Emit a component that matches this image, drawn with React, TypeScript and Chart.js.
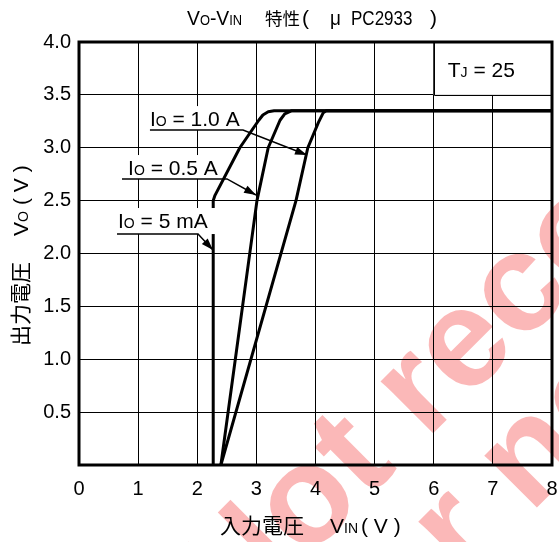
import React, { useEffect, useRef } from "react";
import { Chart, registerables } from "chart.js";
Chart.register(...registerables);

// ---- Axes ----
const X_MIN = 0, X_MAX = 8, X_STEP = 1;
const Y_MIN = 0, Y_MAX = 4, Y_STEP = 0.5;

// ---- Curves: VIN (V) vs VO (V) ----
const IO_5MA_VIN = [2.27, 2.27, 2.30, 2.72, 3.04, 3.11, 3.20, 3.30, 8.0];
const IO_5MA_VO = [0, 2.50, 2.55, 3.00, 3.26, 3.31, 3.34, 3.35, 3.35];
const IO_05A_VIN = [2.40, 3.01, 3.20, 3.40, 3.48, 3.60, 8.0];
const IO_05A_VO = [0, 2.50, 3.00, 3.26, 3.32, 3.35, 3.35];
const IO_10A_VIN = [2.40, 3.67, 3.87, 4.05, 4.13, 4.18, 8.0];
const IO_10A_VO = [0, 2.50, 3.00, 3.24, 3.33, 3.35, 3.35];

// ---- Annotation labels (data units) ----
const LABEL_TEXT = ["1.0 A", "0.5 A", "5 mA"];
const LABEL_TX = [1.2, 0.83, 0.66];
const LABEL_TY = [3.205, 2.742, 2.241];
const LABEL_UL_X0 = [1.2, 0.727, 0.643];
const LABEL_UL_X1 = [2.774, 2.503, 2.013];
const LABEL_UL_Y = [3.167, 2.705, 2.184];
const LABEL_BOX_X1 = [2.8, 2.42, 2.32];
const LABEL_ARROW_X = [3.856, 2.994, 2.266];
const LABEL_ARROW_Y = [2.931, 2.553, 2.033];

const FAM = '"Liberation Sans", Arial, "Noto Sans CJK JP", sans-serif';

type Seg = { t: string; s: number };

function segWidth(ctx: CanvasRenderingContext2D, segs: Seg[]) {
  let w = 0;
  for (const g of segs) {
    ctx.font = `${g.s}px ${FAM}`;
    w += ctx.measureText(g.t).width;
  }
  return w;
}

function drawRich(ctx: CanvasRenderingContext2D, segs: Seg[], x: number, y: number, center: boolean, hs = 1) {
  const total = segWidth(ctx, segs) * hs;
  const sx = center ? x - total / 2 : x;
  ctx.save();
  ctx.translate(sx, y);
  ctx.scale(hs, 1);
  let cx = 0;
  ctx.textAlign = "left";
  ctx.textBaseline = "alphabetic";
  ctx.fillStyle = "#000";
  for (const g of segs) {
    ctx.font = `${g.s}px ${FAM}`;
    ctx.fillText(g.t, cx, 0);
    cx += ctx.measureText(g.t).width;
  }
  ctx.restore();
}

// axis title laid out from its start point along the local +x direction
function drawAxisTitle(ctx: CanvasRenderingContext2D, cjk: string, sub: string) {
  drawRich(ctx, [{ t: cjk, s: 21 }], 0, 0, false);
  drawRich(ctx, [{ t: "V", s: 21 }, { t: sub, s: 14 }], 110, 0, false);
  drawRich(ctx, [{ t: "( V )", s: 21 }], 141, 0, false);
}

const overlay = {
  id: "overlay",
  beforeDraw(chart: any) {
    const ctx: CanvasRenderingContext2D = chart.ctx;
    ctx.save();
    ctx.fillStyle = "#fff";
    ctx.fillRect(0, 0, chart.width, chart.height);
    // watermark
    ctx.fillStyle = "rgba(240,0,0,0.28)";
    ctx.font = `bold 140px "Liberation Sans", Arial, sans-serif`;
    ctx.textBaseline = "alphabetic";
    ctx.textAlign = "left";
    const xh = 140 * 0.53;
    ctx.save();
    ctx.translate(466, 348);
    ctx.rotate(-Math.PI / 4);
    const w1 = ctx.measureText("Not r").width;
    const we = ctx.measureText("e").width;
    ctx.fillText("Not recommended", -w1 - we / 2, xh / 2);
    ctx.restore();
    ctx.save();
    ctx.translate(534, 458);
    ctx.rotate(-Math.PI / 4);
    const w2 = ctx.measureText("for ").width;
    const wn = ctx.measureText("n").width;
    ctx.fillText("for new design", -w2 - wn / 2, xh / 2);
    ctx.restore();
    ctx.restore();
  },
  afterDraw(chart: any) {
    const ctx: CanvasRenderingContext2D = chart.ctx;
    const xs = chart.scales.x, ys = chart.scales.y;
    const a = chart.chartArea;
    ctx.save();

    // labels
    for (let i = 0; i < LABEL_TEXT.length; i++) {
      const tx = xs.getPixelForValue(LABEL_TX[i]);
      const ty = ys.getPixelForValue(LABEL_TY[i]);
      const u0 = xs.getPixelForValue(LABEL_UL_X0[i]);
      const u1 = xs.getPixelForValue(LABEL_UL_X1[i]);
      const uy = ys.getPixelForValue(LABEL_UL_Y[i]);
      const bx1 = xs.getPixelForValue(LABEL_BOX_X1[i]);
      ctx.fillStyle = "#fff";
      ctx.fillRect(u0, ty - 20, bx1 - u0, uy - (ty - 20));
      drawRich(ctx, [{ t: "I", s: 21 }, { t: "O", s: 14 }, { t: " = " + LABEL_TEXT[i], s: 21 }], tx, ty, false);
      const ax = xs.getPixelForValue(LABEL_ARROW_X[i]);
      const ay = ys.getPixelForValue(LABEL_ARROW_Y[i]);
      ctx.strokeStyle = "#000";
      ctx.lineWidth = 1.5;
      ctx.beginPath();
      ctx.moveTo(u0, uy);
      ctx.lineTo(u1, uy);
      ctx.lineTo(ax, ay);
      ctx.stroke();
      const ang = Math.atan2(ay - uy, ax - u1);
      const L = 12, W = 4;
      ctx.fillStyle = "#000";
      ctx.beginPath();
      ctx.moveTo(ax, ay);
      ctx.lineTo(ax - L * Math.cos(ang) + W * Math.sin(ang), ay - L * Math.sin(ang) - W * Math.cos(ang));
      ctx.lineTo(ax - L * Math.cos(ang) - W * Math.sin(ang), ay - L * Math.sin(ang) + W * Math.cos(ang));
      ctx.closePath();
      ctx.fill();
    }

    // TJ box (covers the top-right grid cells)
    const bx0 = xs.getPixelForValue(6), bx1 = xs.getPixelForValue(8);
    const by0 = ys.getPixelForValue(4), by1 = ys.getPixelForValue(3.5);
    ctx.fillStyle = "#fff";
    ctx.fillRect(bx0, by0, bx1 - bx0, by1 - by0);
    ctx.strokeStyle = "#000";
    ctx.lineWidth = 1;
    ctx.beginPath();
    ctx.moveTo(Math.round(bx0) + 0.5, by0);
    ctx.lineTo(Math.round(bx0) + 0.5, Math.round(by1) + 0.5);
    ctx.lineTo(bx1, Math.round(by1) + 0.5);
    ctx.stroke();
    drawRich(ctx, [{ t: "T", s: 21 }, { t: "J", s: 14 }, { t: " = 25", s: 21 }], bx0 + 14, by0 + 35, false);

    // frame
    ctx.strokeStyle = "#000";
    ctx.lineWidth = 3;
    ctx.strokeRect(a.left, a.top, a.right - a.left, a.bottom - a.top);

    // title
    drawRich(ctx, [{ t: "V", s: 21 }, { t: "O", s: 14 }, { t: "-V", s: 21 }, { t: "IN", s: 14 }], 187, 25, false, 0.92);
    drawRich(ctx, [{ t: "特性", s: 17.5 }], 265, 25, false);
    drawRich(ctx, [{ t: "(", s: 21 }], 302, 25, false);
    drawRich(ctx, [{ t: "μ", s: 21 }], 330, 25, false, 0.9);
    drawRich(ctx, [{ t: "PC2933", s: 21 }], 351, 25, false, 0.81);
    drawRich(ctx, [{ t: ")", s: 21 }], 430, 25, false);

    // x title
    ctx.save();
    ctx.translate(220, 533);
    drawAxisTitle(ctx, "入力電圧", "IN");
    ctx.restore();

    // y title
    ctx.save();
    ctx.translate(28, 346);
    ctx.rotate(-Math.PI / 2);
    drawAxisTitle(ctx, "出力電圧", "O");
    ctx.restore();

    ctx.restore();
  },
};

function pts(xv: number[], yv: number[]) {
  return xv.map((x, i) => ({ x, y: yv[i] }));
}

export default function App() {
  const ref = useRef<HTMLCanvasElement>(null);
  useEffect(() => {
    document.body.style.margin = "0";
    const line = (data: any[]) => ({
      data,
      borderColor: "#000",
      borderWidth: 3,
      pointRadius: 0,
      tension: 0,
      fill: false,
      borderJoinStyle: "round" as const,
    });
    const chart = new Chart(ref.current!, {
      type: "line",
      data: {
        datasets: [
          line(pts(IO_5MA_VIN, IO_5MA_VO)),
          line(pts(IO_05A_VIN, IO_05A_VO)),
          line(pts(IO_10A_VIN, IO_10A_VO)),
        ],
      },
      options: {
        animation: false,
        responsive: false,
        devicePixelRatio: 1,
        layout: { padding: { top: 42, right: 7, left: 0, bottom: 0 } },
        plugins: { legend: { display: false }, tooltip: { enabled: false }, title: { display: false } },
        scales: {
          x: {
            type: "linear",
            min: X_MIN,
            max: X_MAX,
            ticks: { stepSize: X_STEP, color: "#000", font: { size: 20, family: FAM }, padding: 12, autoSkip: false, maxRotation: 0 },
            grid: { color: "#000", lineWidth: 1, drawTicks: false },
            border: { display: false },
            afterFit: (s: any) => { s.height = 77; s.paddingLeft = 0; s.paddingRight = 0; },
          },
          y: {
            type: "linear",
            min: Y_MIN,
            max: Y_MAX,
            ticks: {
              stepSize: Y_STEP,
              color: "#000",
              font: { size: 20, family: FAM },
              padding: 8,
              autoSkip: false,
              callback: (v: any) => (Number(v) === 0 ? "" : Number(v).toFixed(1)),
            },
            grid: { color: "#000", lineWidth: 1, drawTicks: false },
            border: { display: false },
            afterFit: (s: any) => { s.width = 79; s.paddingTop = 0; s.paddingBottom = 0; },
          },
        },
      },
      plugins: [overlay],
    } as any);
    return () => chart.destroy();
  }, []);
  return (
    <div style={{ width: 559, height: 542 }}>
      <canvas ref={ref} width={559} height={542} style={{ display: "block", width: 559, height: 542 }} />
    </div>
  );
}
